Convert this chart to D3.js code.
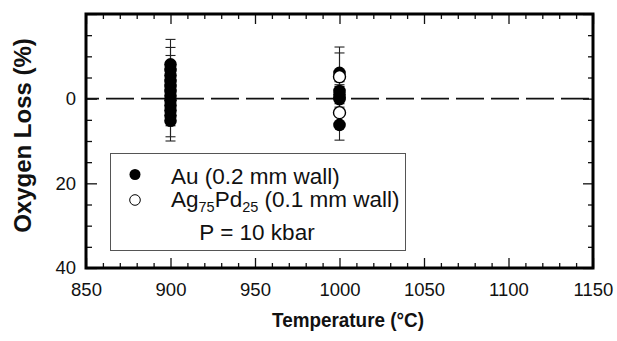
<!DOCTYPE html>
<html>
<head>
<meta charset="utf-8">
<script src="https://cdn.jsdelivr.net/npm/d3@7/dist/d3.min.js"></script>
<style>
  body { margin: 0; background: #fff; }
  svg { display: block; font-family: "Liberation Sans", Arial, Helvetica, sans-serif; }
  .tick text { font-size: 18.5px; fill: #111; }
  .tick line { stroke: #111; stroke-width: 1.3; }
</style>
</head>
<body>
<svg id="chart" width="617" height="341"></svg>
<script>
// x ticks
const xMajor = [850, 900, 950, 1000, 1050, 1100, 1150];
const yMajor = [-20, 0, 20, 40];
const yLabels = [0, 20, 40];

// Au capsules (0.2 mm wall)
const auTemp = [900, 900, 900, 900, 900, 900, 900, 900, 900, 900, 900, 900,
                1000, 1000, 1000, 1000, 1000, 1000];
const auLoss = [-8.1, -6.8, -5.5, -4.2, -3.0, -1.8, -0.7, 0.4, 1.6, 2.8, 4.0, 5.2,
                -6.1, -1.8, -1.0, -0.3, 0.1, 6.2];
const auErr  = [5.9, 5.3, 4.7, 4.5, 4.2, 4.0, 4.0, 4.0, 4.0, 3.6, 5.0, 4.8,
                6.1, 3.0, 3.0, 3.0, 3.0, 3.6];

// Ag75Pd25 capsules (0.1 mm wall)
const agTemp = [1000, 1000];
const agLoss = [-5.2, 3.3];
const agErr  = [5.6, 3.0];

const svg = d3.select("#chart");
const pLeft = 86, pRight = 593, pTop = 14, pBottom = 268;

const x = d3.scaleLinear().domain([850, 1150]).range([pLeft, pRight]);
const y = d3.scaleLinear().domain([-20, 40]).range([pTop, pBottom]);

const xMinor = d3.range(850, 1151, 10).filter(v => !xMajor.includes(v));
const yMinor = d3.range(-20, 41, 5).filter(v => !yMajor.includes(v));

function addAxis(axis, tx, ty) {
  const g = svg.append("g").attr("transform", `translate(${tx},${ty})`).call(axis);
  g.select(".domain").remove();
  return g;
}

// bottom
addAxis(d3.axisBottom(x).tickValues(xMajor).tickSize(-10).tickPadding(15).tickFormat(d3.format("d")), 0, pBottom);
addAxis(d3.axisBottom(x).tickValues(xMinor).tickSize(-5).tickFormat(""), 0, pBottom);
// top
addAxis(d3.axisTop(x).tickValues(xMajor).tickSize(-10).tickFormat(""), 0, pTop);
addAxis(d3.axisTop(x).tickValues(xMinor).tickSize(-5).tickFormat(""), 0, pTop);
// left
addAxis(d3.axisLeft(y).tickValues(yMajor).tickSize(-11).tickPadding(10)
  .tickFormat(d => yLabels.includes(d) ? d : ""), pLeft, 0);
addAxis(d3.axisLeft(y).tickValues(yMinor).tickSize(-6).tickFormat(""), pLeft, 0);
// right
addAxis(d3.axisRight(y).tickValues(yMajor).tickSize(-10).tickFormat(""), pRight, 0);
addAxis(d3.axisRight(y).tickValues(yMinor).tickSize(-5).tickFormat(""), pRight, 0);

// zero line
svg.append("line")
  .attr("x1", x(850)).attr("x2", x(1150))
  .attr("y1", y(0)).attr("y2", y(0))
  .attr("stroke", "#111").attr("stroke-width", 1.8)
  .attr("stroke-dasharray", "28,7").attr("stroke-dashoffset", 15);

// error bars
const errs = auTemp.map((t, i) => ({ t, v: auLoss[i], e: auErr[i] }))
  .concat(agTemp.map((t, i) => ({ t, v: agLoss[i], e: agErr[i] })));

const eb = svg.append("g").attr("stroke", "#222").attr("stroke-width", 1.1);
errs.forEach(d => {
  const cx = x(d.t);
  eb.append("line").attr("x1", cx).attr("x2", cx).attr("y1", y(d.v - d.e)).attr("y2", y(d.v + d.e));
  [d.v - d.e, d.v + d.e].forEach(c => {
    eb.append("line").attr("x1", cx - 5).attr("x2", cx + 5).attr("y1", y(c)).attr("y2", y(c));
  });
});

// points
svg.append("g").selectAll("circle")
  .data(auTemp.map((t, i) => [t, auLoss[i]]))
  .join("circle")
  .attr("cx", d => x(d[0])).attr("cy", d => y(d[1])).attr("r", 6.3)
  .attr("fill", "#000");

svg.append("g").selectAll("circle")
  .data(agTemp.map((t, i) => [t, agLoss[i]]))
  .join("circle")
  .attr("cx", d => x(d[0])).attr("cy", d => y(d[1])).attr("r", 6)
  .attr("fill", "#fff").attr("stroke", "#000").attr("stroke-width", 1.4);

// legend
const lg = svg.append("g");
lg.append("rect").attr("x", 110.5).attr("y", 153.5).attr("width", 295).attr("height", 97)
  .attr("fill", "#fff").attr("stroke", "#555").attr("stroke-width", 1);
lg.append("circle").attr("cx", 135).attr("cy", 174.5).attr("r", 5.5).attr("fill", "#000");
lg.append("circle").attr("cx", 135).attr("cy", 200).attr("r", 5.3)
  .attr("fill", "#fff").attr("stroke", "#000").attr("stroke-width", 1);
lg.append("text").attr("x", 171).attr("y", 184).attr("font-size", 22.5).attr("fill", "#111")
  .text("Au (0.2 mm wall)");
const t2 = lg.append("text").attr("x", 171).attr("y", 207).attr("font-size", 22.5).attr("fill", "#111");
t2.append("tspan").text("Ag");
t2.append("tspan").attr("dy", 5).attr("font-size", 14.5).text("75");
t2.append("tspan").attr("dy", -5).text("Pd");
t2.append("tspan").attr("dy", 5).attr("font-size", 14.5).text("25");
t2.append("tspan").attr("dy", -5).text(" (0.1 mm wall)");
lg.append("text").attr("x", 257).attr("y", 240).attr("text-anchor", "middle")
  .attr("font-size", 22.5).attr("fill", "#111").text("P = 10 kbar");

// frame
svg.append("rect").attr("x", pLeft).attr("y", pTop).attr("width", pRight - pLeft).attr("height", pBottom - pTop)
  .attr("fill", "none").attr("stroke", "#000").attr("stroke-width", 3);

// axis titles
svg.append("text").attr("x", 348).attr("y", 327).attr("text-anchor", "middle")
  .attr("font-size", 20.5).attr("font-weight", "bold").attr("fill", "#111")
  .attr("textLength", 152).attr("lengthAdjust", "spacingAndGlyphs")
  .text("Temperature (°C)");
svg.append("text").attr("transform", "translate(31,135.5) rotate(-90)").attr("text-anchor", "middle")
  .attr("font-size", 24).attr("font-weight", "bold").attr("fill", "#111")
  .text("Oxygen Loss (%)");
</script>
</body>
</html>
